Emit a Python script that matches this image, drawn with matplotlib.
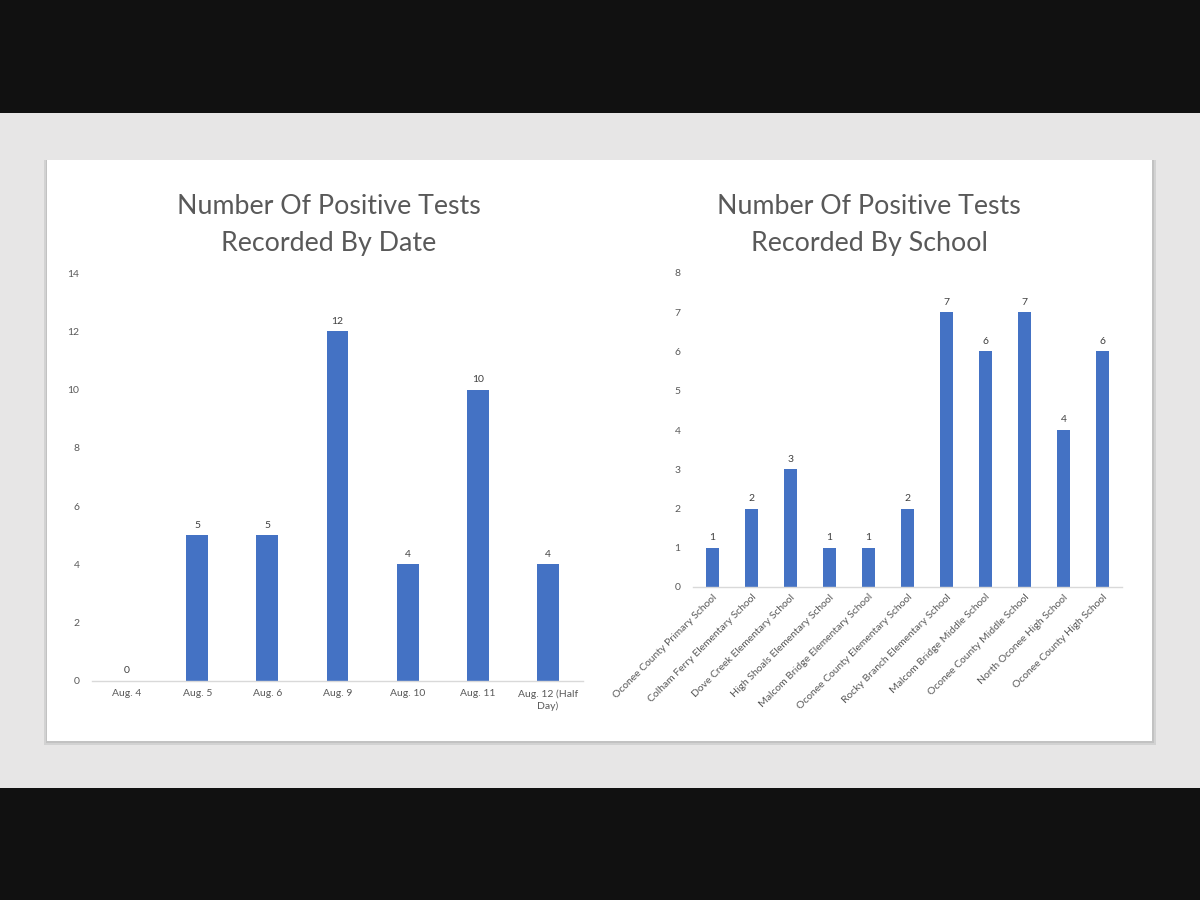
import matplotlib

matplotlib.use("Agg")

import matplotlib.pyplot as plt
from matplotlib.patches import Rectangle

plt.rcParams["font.family"] = ["Lato", "DejaVu Sans"]

# data
dates = ["Aug. 4", "Aug. 5", "Aug. 6", "Aug. 9", "Aug. 10", "Aug. 11", "Aug. 12 (Half\nDay)"]
date_counts = [0, 5, 5, 12, 4, 10, 4]

schools = [
    "Oconee County Primary School",
    "Colham Ferry Elementary School",
    "Dove Creek Elementary School",
    "High Shoals Elementary School",
    "Malcom Bridge Elementary School",
    "Oconee County Elementary School",
    "Rocky Branch Elementary School",
    "Malcom Bridge Middle School",
    "Oconee County Middle School",
    "North Oconee High School",
    "Oconee County High School",
]
school_counts = [1, 2, 3, 1, 1, 2, 7, 6, 7, 4, 6]

BAR = "#4472c4"
TXT = "#595959"
W, H = 1200, 900


def px(x0, y0, x1, y1):
    # pixel box (top-left origin) -> figure fraction [left, bottom, width, height]
    return [x0 / W, 1 - y1 / H, (x1 - x0) / W, (y1 - y0) / H]


fig = plt.figure(figsize=(12, 9), dpi=100)
fig.patch.set_facecolor("#e7e6e6")

# black bands and the white card with a soft shadow
for box, col in [
    ((0, 0, 1200, 113), "#111111"),
    ((0, 788, 1200, 900), "#111111"),
    ((44, 160, 1156, 745), "#d2d2d2"),
    ((46, 160, 1154, 743), "#c2c2c2"),
    ((47, 160, 1152, 741), "white"),
]:
    l, b, w, h = px(*box)
    fig.patches.append(
        Rectangle((l, b), w, h, transform=fig.transFigure, facecolor=col,
                  edgecolor="none", zorder=-10)
    )


def style(ax, ymax, step):
    ax.set_facecolor("none")
    for s in ["top", "right", "left"]:
        ax.spines[s].set_visible(False)
    ax.spines["bottom"].set_color("#d9d9d9")
    ax.spines["bottom"].set_linewidth(1)
    ax.set_ylim(0, ymax)
    ax.set_yticks(range(0, ymax + 1, step))
    ax.tick_params(axis="both", length=0, labelsize=7.5, labelcolor=TXT)
    ax.tick_params(axis="y", pad=9)


# left chart: by date
ax1 = fig.add_axes(px(92, 273, 583, 681))
x1 = range(len(dates))
bars1 = ax1.bar(x1, date_counts, width=0.31, color=BAR, zorder=2)
ax1.set_xlim(-0.5, len(dates) - 0.5)
style(ax1, 14, 2)
ax1.set_xticks(list(x1))
ax1.set_xticklabels(dates, linespacing=1.3)
ax1.tick_params(axis="x", pad=6)
ax1.bar_label(bars1, padding=4, fontsize=7.5, color="#404040")

# right chart: by school
ax2 = fig.add_axes(px(693, 273, 1122, 587))
x2 = range(len(schools))
bars2 = ax2.bar(x2, school_counts, width=0.32, color=BAR, zorder=2)
ax2.set_xlim(-0.5, len(schools) - 0.5)
style(ax2, 8, 1)
ax2.set_xticks(list(x2))
ax2.set_xticklabels(schools, rotation=45, ha="right", rotation_mode="anchor")
ax2.tick_params(axis="x", pad=4)
ax2.bar_label(bars2, padding=4, fontsize=7.5, color="#404040")

# titles
fig.text(329 / W, 1 - 225 / H, "Number Of Positive Tests\nRecorded By Date",
         ha="center", va="center", fontsize=19.3, color=TXT, linespacing=1.6)
fig.text(869 / W, 1 - 225 / H, "Number Of Positive Tests\nRecorded By School",
         ha="center", va="center", fontsize=19.3, color=TXT, linespacing=1.6)

fig.savefig("out.png", dpi=100, facecolor=fig.get_facecolor())
